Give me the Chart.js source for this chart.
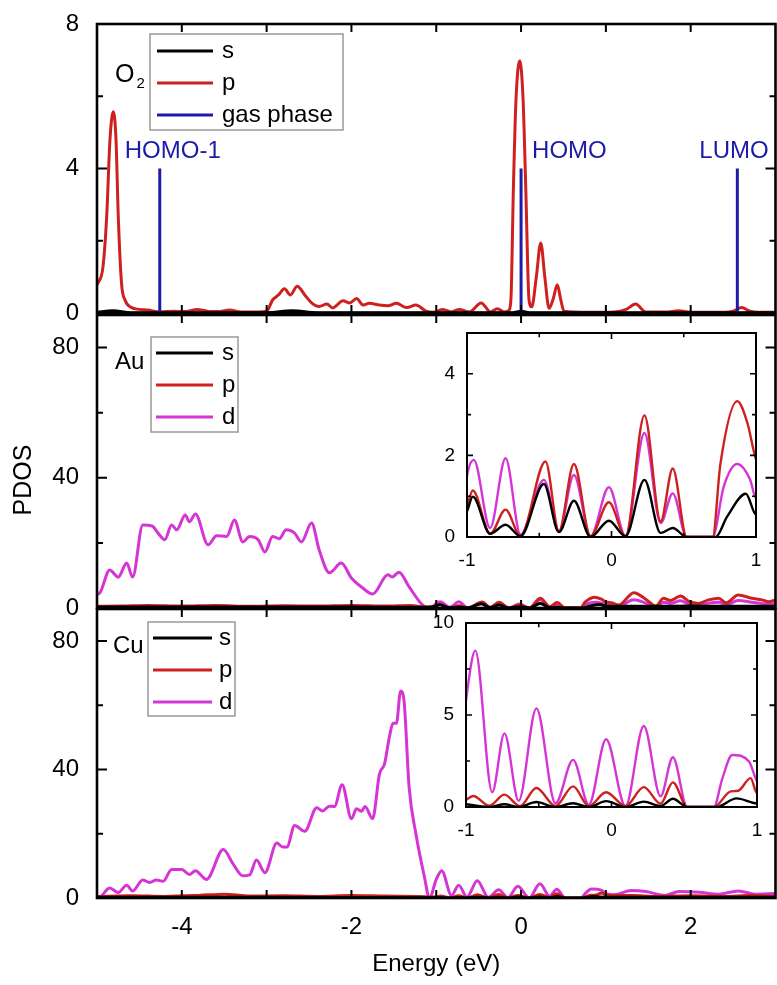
<!DOCTYPE html>
<html><head><meta charset="utf-8">
<script src="https://cdn.jsdelivr.net/npm/chart.js@4.4.1/dist/chart.umd.min.js"></script>
<style>
html,body{margin:0;padding:0;background:#fff;}
#wrap{position:relative;width:777px;height:985px;overflow:hidden;background:#fff;}
#wrap canvas{position:absolute;left:0;top:0;}
</style></head><body>
<div id="wrap">
<canvas id="cO2" width="777" height="985"></canvas>
<canvas id="cAu" width="777" height="985"></canvas>
<canvas id="cCu" width="777" height="985"></canvas>
<canvas id="cAuIn" width="777" height="985"></canvas>
<canvas id="cCuIn" width="777" height="985"></canvas>
</div>
<script>
// ---------------- DATA ----------------
const xTickLabels = [-4, -2, 0, 2];
const insetTickLabels = [-1, 0, 1];
const xTitle = 'Energy (eV)';
const yTitle = 'PDOS';
const orbitals = ['s', 'p', 'd'];

// O2 panel
const o2P_E = [-5.0,-4.93,-4.886,-4.847,-4.808,-4.776,-4.749,-4.71,-4.67,-4.6,-4.5,-4.4,-4.26,-4.1,-3.95,-3.82,-3.7,-3.55,-3.44,-3.3,-3.1,-3.0,-2.93,-2.86,-2.79,-2.72,-2.64,-2.55,-2.47,-2.38,-2.29,-2.22,-2.1,-2.02,-1.94,-1.86,-1.79,-1.67,-1.57,-1.47,-1.35,-1.24,-1.12,-1.03,-0.93,-0.82,-0.73,-0.61,-0.47,-0.36,-0.28,-0.2,-0.15,-0.12,-0.09,-0.06,-0.015,0.024,0.055,0.094,0.126,0.18,0.232,0.28,0.33,0.38,0.427,0.47,0.506,0.8,1.1,1.24,1.35,1.47,1.7,1.86,2.0,2.4,2.5,2.6,2.7,2.8,3.0];
const o2P   = [0.78,1.27,2.66,4.8,5.57,4.8,2.66,0.8,0.36,0.16,0.1,0.08,0.03,0.05,0.04,0.1,0.05,0.04,0.08,0.03,0.03,0.05,0.36,0.5,0.67,0.5,0.74,0.5,0.28,0.18,0.25,0.14,0.34,0.28,0.4,0.22,0.27,0.22,0.2,0.27,0.15,0.22,0.05,0.02,0.1,0.03,0.1,0.03,0.28,0.03,0.12,0.03,0.06,0.36,3.5,5.9,6.98,5.9,3.5,0.36,0.17,1.0,1.94,1.0,0.13,0.4,0.78,0.35,0.05,0.02,0.03,0.1,0.25,0.03,0.03,0.06,0.02,0.02,0.05,0.15,0.05,0.02,0.02];
const o2S_E = [-5,-4.81,-4.6,-3.0,-2.7,-2.4,-0.1,0,0.1,3];
const o2S   = [0.02,0.06,0.01,0.01,0.06,0.01,0.01,0.05,0.01,0.01];
const gasE      = [-4.26, 0.0, 2.55];
const gasHeight = [4, 4, 4];
const gasLabels = ['HOMO-1', 'HOMO', 'LUMO'];

// Au panel
const auD_E = [-5.0,-4.96,-4.85,-4.75,-4.65,-4.58,-4.46,-4.35,-4.28,-4.2,-4.12,-4.06,-3.96,-3.91,-3.84,-3.69,-3.59,-3.47,-3.38,-3.28,-3.2,-3.1,-3.02,-2.93,-2.85,-2.77,-2.67,-2.59,-2.47,-2.38,-2.26,-2.12,-2.0,-1.87,-1.75,-1.57,-1.52,-1.44,-1.32,-1.16,-1.08,-1.03,-1.0,-0.953,-0.84,-0.733,-0.63,-0.468,-0.364,-0.26,-0.145,-0.018,0.097,0.228,0.34,0.424,0.52,0.70,0.777,0.87,0.96,1.0,1.07,1.15,1.33,1.47,1.59,1.68,1.76,1.88,1.98,2.09,2.21,2.33,2.42,2.56,2.72,2.84,2.92,3.0];
const auD   = [4.0,4.9,11.7,9.5,13.8,9.5,25.5,25.2,23,21,25.5,24,28.6,26.5,28.9,19.4,22.2,22,27,20.3,22,21,17.2,22,21.3,24,23,20.3,26.1,17.8,10.8,13.8,9.2,6.2,4.3,10.2,9.5,11,6.5,0.9,0.1,0.6,1.5,1.89,0.22,1.93,0.06,1.4,0.14,1.52,0.02,1.22,0.02,2.55,0.34,1.07,0,0,1.24,1.79,1.4,0.95,1.0,0.6,2.5,1.5,0.4,1.8,1.4,2.2,1.2,0.8,1.5,1.8,1.0,2.3,1.8,1.4,1.1,1.4];
const auP_E = [-5.0,-4.7,-4.4,-4.0,-3.6,-3.2,-2.8,-2.4,-2.0,-1.6,-1.3,-1.15,-1.05,-1.0,-0.96,-0.84,-0.733,-0.63,-0.457,-0.364,-0.26,-0.145,-0.018,0.097,0.228,0.34,0.424,0.52,0.70,0.754,0.87,0.94,1.0,1.07,1.15,1.33,1.47,1.59,1.68,1.76,1.88,1.98,2.09,2.21,2.33,2.42,2.56,2.72,2.84,2.92,3.0];
const auP   = [0.5,0.6,0.8,0.6,0.8,0.5,0.7,0.6,0.8,0.6,0.8,0.3,0.4,0.75,1.14,0.08,0.67,0.02,1.85,0.14,1.79,0.02,0.85,0.02,2.98,0.38,1.68,0,0,1.8,3.33,2.8,1.9,1.6,0.9,4.7,2.7,0.6,3.0,2.3,3.7,2.0,1.4,2.5,3.0,1.6,4.0,3.0,2.5,1.9,2.5];
const auS_E = [-5.0,-4.0,-3.0,-2.0,-1.1,-1.0,-0.96,-0.84,-0.733,-0.63,-0.468,-0.364,-0.26,-0.145,-0.018,0.097,0.228,0.34,0.424,0.52,0.72,0.8,0.93,1.0,1.5,2.0,2.5,3.0];
const auS   = [0.3,0.3,0.3,0.3,0.2,0.63,0.99,0.08,0.3,0.02,1.3,0.12,0.89,0.0,0.4,0.02,1.4,0.1,0.22,0,0,0.5,1.06,0.55,0.5,0.6,0.5,0.5];

// Cu panel
const cuD_E = [-5.0,-4.96,-4.85,-4.75,-4.65,-4.58,-4.46,-4.38,-4.3,-4.22,-4.12,-4.0,-3.91,-3.84,-3.71,-3.51,-3.4,-3.28,-3.2,-3.12,-3.02,-2.88,-2.81,-2.76,-2.67,-2.55,-2.41,-2.34,-2.26,-2.2,-2.11,-2.0,-1.94,-1.88,-1.84,-1.75,-1.67,-1.61,-1.55,-1.51,-1.47,-1.42,-1.38,-1.32,-1.24,-1.14,-1.08,-1.0,-0.936,-0.82,-0.736,-0.638,-0.516,-0.385,-0.264,-0.156,-0.037,0.096,0.222,0.337,0.422,0.52,0.704,0.76,0.83,0.945,1.0,1.1,1.3,1.47,1.7,1.86,2.1,2.33,2.56,2.76,3.0];
const cuD   = [0.2,0.4,3.1,1.7,4.0,2.2,5.6,4.8,5.6,5.2,8.9,8.9,7.3,8.5,5.8,15.1,10.8,6.9,7.2,11.8,7.9,17.1,15.9,15.9,22.6,20.8,28.1,27.1,28.6,28.5,35.3,24.7,27.8,27.0,28.5,24.7,38.6,41.8,50.5,54.4,54.4,64.5,61.4,34.5,20,6.6,0,5.8,8.5,0.8,4.0,0.34,5.36,0.2,2.56,0.12,3.68,0.04,4.4,0.58,2.7,0,0,1.5,2.83,2.47,1.4,1.0,2.3,2.0,0.8,2.0,1.8,1.2,2.2,1.2,1.4];
const cuP_E = [-5.0,-4.6,-4.2,-3.8,-3.5,-3.2,-2.8,-2.4,-2.0,-1.6,-1.2,-1.05,-1.0,-0.95,-0.84,-0.736,-0.63,-0.516,-0.385,-0.264,-0.156,-0.037,0.096,0.222,0.337,0.422,0.52,0.704,0.82,0.87,0.956,1.0,1.3,1.6,2.0,2.4,2.7,3.0];
const cuP   = [0.5,0.7,0.5,0.8,1.2,0.6,0.7,0.5,0.8,0.6,0.5,0.3,0.4,0.6,0.07,0.67,0.05,1.03,0.05,1.12,0.05,0.8,0.05,1.08,0.18,1.34,0,0,0.85,0.88,1.57,0.76,0.8,0.5,0.7,0.5,0.8,0.5];
const cuS_E = [-5.0,-3.0,-1.05,-1.0,-0.94,-0.84,-0.736,-0.64,-0.516,-0.385,-0.264,-0.156,-0.037,0.096,0.222,0.337,0.422,0.52,0.72,0.86,1.0,2.0,3.0];
const cuS   = [0.2,0.2,0.1,0.15,0.08,0.0,0.15,0.0,0.27,0.0,0.2,0.0,0.32,0.0,0.29,0.05,0.45,0.0,0.0,0.47,0.2,0.2,0.2];

// ---------------- STYLE ----------------
const FONT = "'Liberation Sans', Arial, Helvetica, sans-serif";
Chart.defaults.font.family = FONT;
const COL = { s: '#000000', p: '#cf2020', d: '#d535d5', gas: '#1c1ca8' };

function pts(E, V) { return E.map((e, i) => ({ x: e, y: V[i] })); }
function gasPts() {
  const out = [];
  gasE.forEach((e, i) => { out.push({ x: e, y: 0 }, { x: e, y: gasHeight[i] }, { x: e, y: null }); });
  return out;
}
function ds(label, E, V, color, order, width) {
  return { label, data: pts(E, V), borderColor: color, backgroundColor: color, borderWidth: width,
           pointRadius: 0, fill: false, cubicInterpolationMode: 'monotone', order };
}

// ---------------- PLUGINS ----------------
const framePlugin = {
  id: 'frame',
  beforeDatasetsDraw(chart, args, o) {
    if (!o.fill) return;
    const { ctx, chartArea: a } = chart;
    ctx.save(); ctx.fillStyle = '#fff';
    ctx.fillRect(a.left, a.top, a.right - a.left, a.bottom - a.top);
    ctx.restore();
  },
  afterDatasetsDraw(chart, args, o) {
    const { ctx, chartArea: a, scales: { x, y } } = chart;
    ctx.save();
    ctx.strokeStyle = '#000'; ctx.lineWidth = o.tickW; ctx.lineCap = 'butt';
    ctx.beginPath();
    const xv = x.ticks.map(t => t.value);
    const xs = xv.slice();
    if (o.xMinor) for (let i = 0; i < xv.length - 1; i++) xs.push((xv[i] + xv[i + 1]) / 2);
    xs.forEach(v => {
      const px = x.getPixelForValue(v);
      if (px <= a.left + 2 || px >= a.right - 2) return;
      const len = xv.includes(v) ? o.xLen : o.xLen * 0.7;
      ctx.moveTo(px, a.bottom); ctx.lineTo(px, a.bottom - len);
      ctx.moveTo(px, a.top); ctx.lineTo(px, a.top + len);
    });
    const yv = y.ticks.map(t => t.value);
    const ym = [];
    for (let i = 0; i < yv.length - 1; i++) ym.push((yv[i] + yv[i + 1]) / 2);
    if (yv.length > 1) { const nx = yv[yv.length - 1] + (yv[1] - yv[0]) / 2; if (nx < y.max) ym.push(nx); }
    const drawY = (v, len) => {
      const py = y.getPixelForValue(v);
      if (py <= a.top + 2 || py >= a.bottom - 2) return;
      ctx.moveTo(a.left, py); ctx.lineTo(a.left + len, py);
      ctx.moveTo(a.right, py); ctx.lineTo(a.right - len, py);
    };
    yv.forEach(v => drawY(v, o.yMajor));
    ym.forEach(v => drawY(v, o.yMinor));
    ctx.stroke();
    ctx.lineWidth = o.lw;
    ctx.strokeRect(a.left, a.top, a.right - a.left, a.bottom - a.top);
    ctx.restore();
  }
};

const boxLegendPlugin = {
  id: 'boxLegend',
  afterDraw(chart, args, o) {
    if (!o || !o.show) return;
    const { ctx, chartArea: a } = chart;
    const bx = a.left + o.x, by = a.top + o.y;
    ctx.save();
    ctx.fillStyle = '#fff'; ctx.fillRect(bx, by, o.w, o.h);
    ctx.strokeStyle = '#8a8a8a'; ctx.lineWidth = 1.3; ctx.strokeRect(bx, by, o.w, o.h);
    chart.data.datasets.forEach((d, i) => {
      const yy = by + o.first + i * o.step;
      ctx.strokeStyle = d.borderColor; ctx.lineWidth = 3.2;
      ctx.beginPath(); ctx.moveTo(bx + o.l0, yy); ctx.lineTo(bx + o.l1, yy); ctx.stroke();
      ctx.fillStyle = '#000'; ctx.font = `24px ${FONT}`; ctx.textBaseline = 'middle'; ctx.textAlign = 'left';
      ctx.fillText(d.label, bx + o.tx, yy);
    });
    ctx.restore();
  }
};

const notesPlugin = {
  id: 'notes',
  afterDraw(chart, args, o) {
    const { ctx, chartArea: a, scales: { x, y } } = chart;
    (o.items || []).forEach(it => {
      ctx.save();
      let px, py;
      if (it.x !== undefined) { px = x.getPixelForValue(it.x) + (it.dx || 0); py = y.getPixelForValue(it.y) + (it.dy || 0); }
      else { px = a.left + it.ax; py = a.top + it.ay; }
      ctx.font = `${it.size || 24}px ${FONT}`;
      ctx.fillStyle = it.color || '#000';
      ctx.textAlign = it.align || 'left';
      ctx.textBaseline = it.baseline || 'alphabetic';
      ctx.translate(px, py);
      if (it.rotate) ctx.rotate(it.rotate);
      ctx.fillText(it.text, 0, 0);
      if (it.sub) {
        const w = ctx.measureText(it.text).width;
        ctx.font = `${it.subSize}px ${FONT}`;
        ctx.fillText(it.sub, w + 2, it.subDy);
      }
      ctx.restore();
    });
  }
};

// ---------------- CHART FACTORIES ----------------
const PLOT_LEFT = 97, PLOT_RIGHT = 775.5;

function mainChart(id, c) {
  return new Chart(document.getElementById(id), {
    type: 'line',
    data: { datasets: c.datasets },
    options: {
      responsive: false, animation: false, devicePixelRatio: 1,
      layout: { padding: { top: c.top, right: 777 - PLOT_RIGHT, bottom: c.padBottom, left: 0 } },
      scales: {
        x: {
          type: 'linear', min: -5, max: 3,
          grid: { display: false }, border: { display: false },
          ticks: { display: !!c.xLabels, stepSize: 1, autoSkip: false, maxRotation: 0, padding: 7,
                   font: { size: 24 }, color: '#000',
                   callback: v => xTickLabels.includes(v) ? String(v) : '' },
          title: c.xLabels ? { display: true, text: xTitle, font: { size: 24 }, color: '#000', padding: { top: 0, bottom: 6 } } : { display: false },
          afterFit: s => { s.height = c.xHeight; s.paddingLeft = 0; s.paddingRight = 0; }
        },
        y: {
          type: 'linear', min: 0, max: c.yMax,
          grid: { display: false }, border: { display: false },
          ticks: { stepSize: c.yStep, includeBounds: false, padding: 10, font: { size: 24 }, color: '#000' },
          afterFit: s => { s.width = PLOT_LEFT; s.paddingTop = 0; s.paddingBottom = 0; }
        }
      },
      plugins: {
        legend: { display: false }, tooltip: { enabled: false },
        frame: { lw: 2.6, tickW: 2, xLen: 8, yMajor: 10, yMinor: 6, xMinor: false, fill: false },
        boxLegend: c.legend,
        notes: { items: c.notes }
      }
    },
    plugins: [framePlugin, boxLegendPlugin, notesPlugin]
  });
}

function insetChart(id, c) {
  return new Chart(document.getElementById(id), {
    type: 'line',
    data: { datasets: c.datasets },
    options: {
      responsive: false, animation: false, devicePixelRatio: 1,
      layout: { padding: { top: c.top, right: 777 - c.right, bottom: 0, left: 0 } },
      scales: {
        x: {
          type: 'linear', min: -1, max: 1,
          grid: { display: false }, border: { display: false },
          ticks: { stepSize: 1, autoSkip: false, maxRotation: 0, padding: 4, font: { size: 19 }, color: '#000',
                   callback: v => insetTickLabels.includes(v) ? String(v) : '' },
          afterFit: s => { s.height = 985 - c.bottom; s.paddingLeft = 0; s.paddingRight = 0; }
        },
        y: {
          type: 'linear', min: 0, max: c.yMax,
          grid: { display: false }, border: { display: false },
          ticks: { stepSize: c.yStep, includeBounds: false, padding: 4, font: { size: 19 }, color: '#000' },
          afterFit: s => { s.width = c.left; s.paddingTop = 0; s.paddingBottom = 0; }
        }
      },
      plugins: {
        legend: { display: false }, tooltip: { enabled: false },
        frame: { lw: 2, tickW: 1.6, xLen: 6, yMajor: 6, yMinor: 4, xMinor: true, fill: true },
        boxLegend: { show: false },
        notes: { items: [] }
      }
    },
    plugins: [framePlugin, boxLegendPlugin, notesPlugin]
  });
}

// ---------------- BUILD ----------------
const W = 3, WI = 2.4;

mainChart('cO2', {
  top: 24, padBottom: 985 - 313, xHeight: 0, yMax: 8, yStep: 4, xLabels: false,
  datasets: [
    ds(orbitals[0], o2S_E, o2S, COL.s, 2, W),
    ds(orbitals[1], o2P_E, o2P, COL.p, 3, W),
    { label: 'gas phase', data: gasPts(), borderColor: COL.gas, backgroundColor: COL.gas, borderWidth: 3,
      pointRadius: 0, fill: false, tension: 0, cubicInterpolationMode: 'default', spanGaps: false, order: 1 }
  ],
  legend: { show: true, x: 53, y: 10, w: 193, h: 96, first: 17, step: 32, l0: 7, l1: 63, tx: 72 },
  notes: [
    { text: 'O', ax: 18, ay: 58, size: 25, sub: '2', subSize: 15, subDy: 6 },
    { text: gasLabels[0], x: gasE[0], y: gasHeight[0], dx: -35, dy: -11, color: COL.gas, size: 24 },
    { text: gasLabels[1], x: gasE[1], y: gasHeight[1], dx: 11, dy: -11, color: COL.gas, size: 24 },
    { text: gasLabels[2], x: gasE[2], y: gasHeight[2], dx: -38, dy: -11, color: COL.gas, size: 24 }
  ]
});

mainChart('cAu', {
  top: 315, padBottom: 985 - 608, xHeight: 0, yMax: 90, yStep: 40, xLabels: false,
  datasets: [
    ds(orbitals[0], auS_E, auS, COL.s, 1, W),
    ds(orbitals[1], auP_E, auP, COL.p, 2, W),
    ds(orbitals[2], auD_E, auD, COL.d, 3, W)
  ],
  legend: { show: true, x: 54, y: 22, w: 87, h: 95, first: 16, step: 32, l0: 5, l1: 62, tx: 71 },
  notes: [
    { text: 'Au', ax: 18, ay: 54, size: 24 },
    { text: yTitle, ax: -73, ay: 165, size: 25, align: 'center', baseline: 'middle', rotate: -Math.PI / 2 }
  ]
});

mainChart('cCu', {
  top: 609, padBottom: 0, xHeight: 985 - 898, yMax: 90, yStep: 40, xLabels: true,
  datasets: [
    ds(orbitals[0], cuS_E, cuS, COL.s, 1, W),
    ds(orbitals[1], cuP_E, cuP, COL.p, 2, W),
    ds(orbitals[2], cuD_E, cuD, COL.d, 3, W)
  ],
  legend: { show: true, x: 51, y: 13, w: 87, h: 94, first: 16, step: 32, l0: 5, l1: 64, tx: 71 },
  notes: [
    { text: 'Cu', ax: 16, ay: 44, size: 24 }
  ]
});

insetChart('cAuIn', {
  left: 467, right: 756, top: 333, bottom: 537, yMax: 5, yStep: 2,
  datasets: [
    ds(orbitals[0], auS_E, auS, COL.s, 1, WI),
    ds(orbitals[1], auP_E, auP, COL.p, 2, WI),
    ds(orbitals[2], auD_E, auD, COL.d, 3, WI)
  ]
});

insetChart('cCuIn', {
  left: 466, right: 757, top: 623, bottom: 807, yMax: 10, yStep: 5,
  datasets: [
    ds(orbitals[0], cuS_E, cuS, COL.s, 1, WI),
    ds(orbitals[1], cuP_E, cuP, COL.p, 2, WI),
    ds(orbitals[2], cuD_E, cuD, COL.d, 3, WI)
  ]
});
</script>
</body></html>
